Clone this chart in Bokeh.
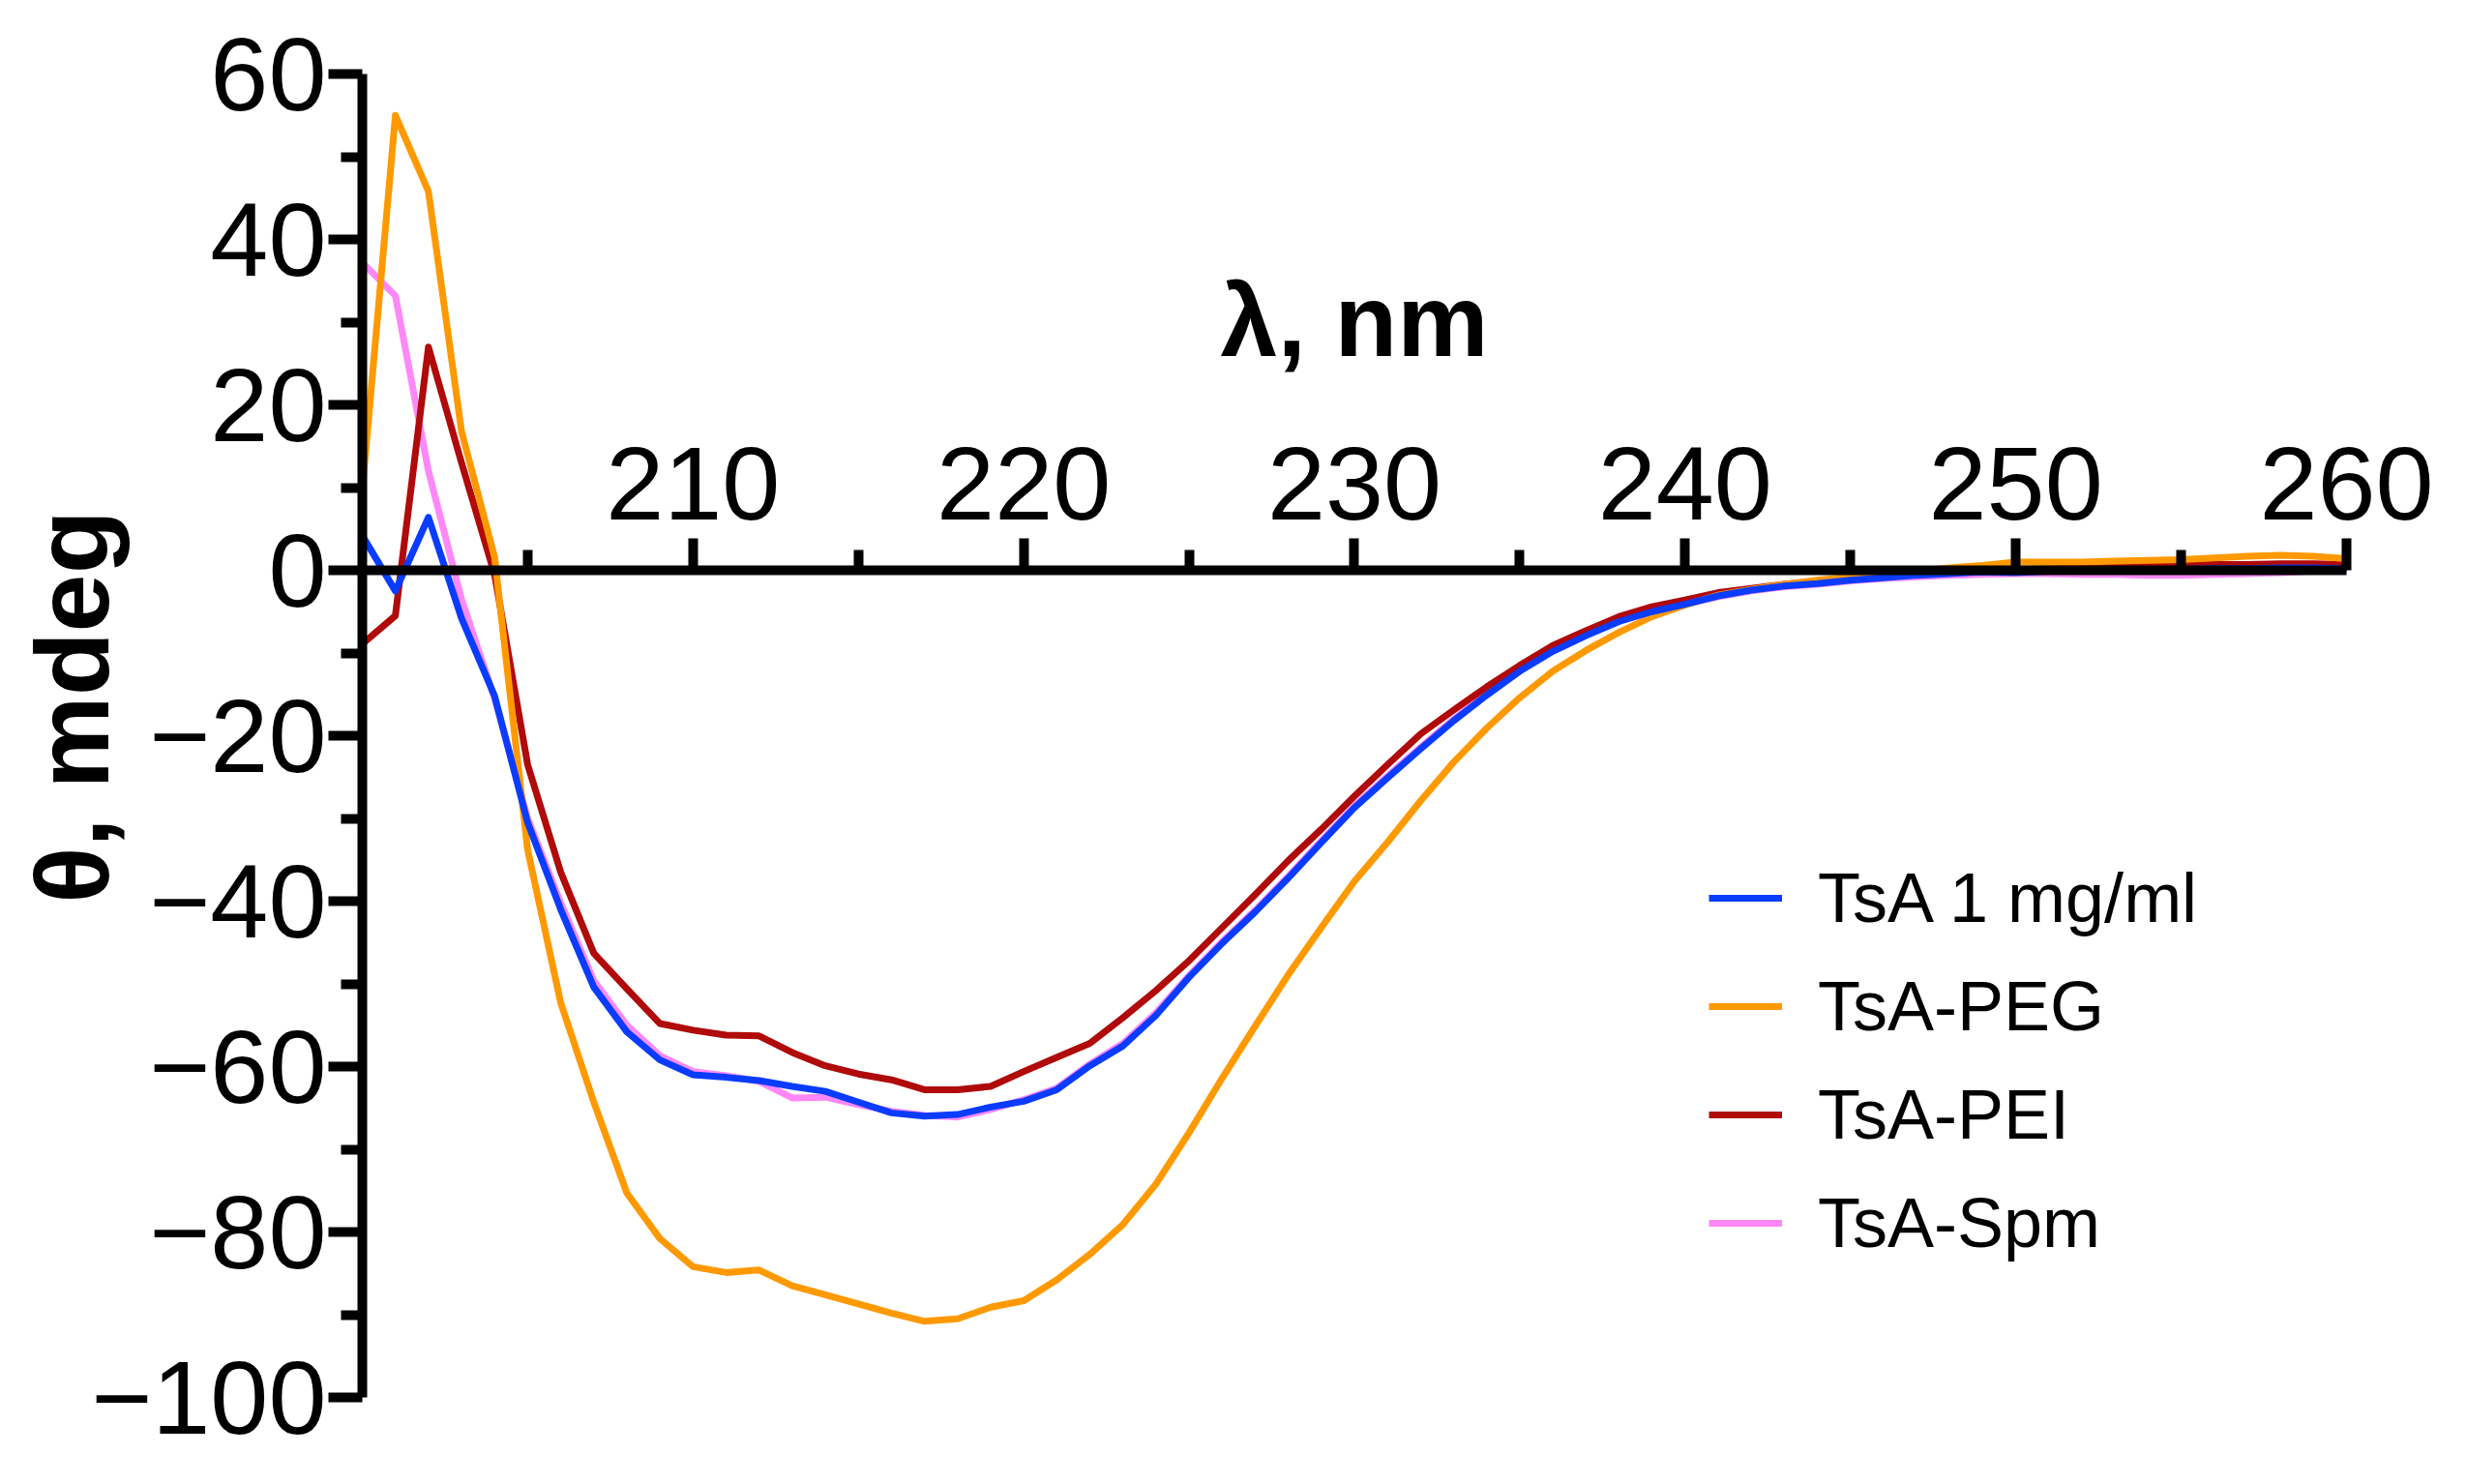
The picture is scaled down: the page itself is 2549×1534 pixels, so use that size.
import math
from bokeh.plotting import figure
from bokeh.models import Range1d, LinearAxis, FixedTicker, Legend, LegendItem, Label
from bokeh.embed import file_html
from bokeh.resources import INLINE

wavelength = list(range(200, 261))

tsa_1mg = [4.2, -2.5, 6.4, -5.8, -15.2, -30.5, -41.0, -50.4, -55.8, -59.2,
           -61.0, -61.3, -61.7, -62.4, -63.0, -64.3, -65.6, -66.0, -65.8, -64.9,
           -64.2, -62.8, -59.9, -57.5, -53.8, -49.2, -45.1, -41.3, -37.2, -32.9,
           -28.7, -25.1, -21.6, -18.2, -15.1, -12.2, -9.8, -7.9, -6.2, -5.0,
           -4.1, -3.1, -2.4, -1.9, -1.6, -1.2, -0.9, -0.6, -0.4, -0.2,
           -0.3, -0.1, -0.1, 0.0, 0.1, 0.1, 0.2, 0.2, 0.3, 0.3, 0.2]

tsa_peg = [9.7, 55.0, 45.8, 16.8, 1.6, -33.8, -52.3, -64.3, -75.3, -80.8,
           -84.2, -84.9, -84.6, -86.5, -87.6, -88.7, -89.8, -90.8, -90.5, -89.1,
           -88.3, -85.8, -82.7, -79.1, -74.2, -68.0, -61.4, -55.1, -48.9, -43.2,
           -37.6, -32.9, -27.9, -23.2, -19.1, -15.4, -12.2, -9.7, -7.5, -5.6,
           -4.2, -3.0, -2.3, -1.7, -1.2, -0.8, -0.4, -0.1, 0.3, 0.6,
           1.0, 1.0, 1.0, 1.1, 1.2, 1.3, 1.5, 1.7, 1.8, 1.7, 1.4]

tsa_pei = [-8.9, -5.5, 27.0, 13.0, -0.5, -23.5, -36.5, -46.3, -50.6, -54.8,
           -55.6, -56.2, -56.3, -58.3, -59.9, -60.9, -61.6, -62.8, -62.8, -62.4,
           -60.6, -58.9, -57.2, -54.1, -50.8, -47.2, -43.2, -39.2, -35.1, -31.3,
           -27.3, -23.5, -19.8, -16.9, -14.1, -11.5, -9.1, -7.3, -5.6, -4.4,
           -3.6, -2.7, -2.2, -1.7, -1.3, -1.0, -0.7, -0.4, -0.2, 0.0,
           0.1, 0.2, 0.3, 0.4, 0.5, 0.6, 0.7, 0.7, 0.8, 0.8, 0.7]

tsa_spm = [37.2, 33.2, 12.0, -3.5, -15.5, -30.0, -40.2, -49.6, -55.0, -58.7,
           -60.6, -61.1, -61.8, -63.8, -63.7, -64.6, -65.4, -65.9, -66.1, -65.2,
           -64.0, -62.6, -59.7, -57.2, -53.5, -49.0, -44.9, -41.1, -37.0, -32.7,
           -28.5, -24.9, -21.4, -18.0, -14.9, -12.1, -9.7, -7.8, -6.1, -5.0,
           -4.1, -3.2, -2.5, -2.0, -1.7, -1.3, -1.0, -0.8, -0.6, -0.5,
           -0.4, -0.4, -0.5, -0.5, -0.6, -0.6, -0.5, -0.4, -0.3, -0.1, 0.1]

series_names = ["TsA 1 mg/ml", "TsA-PEG", "TsA-PEI", "TsA-Spm"]
series_colors = ["#0A3CFF", "#FF9900", "#B00A0A", "#FF88F8"]

y_ticks = [-100, -80, -60, -40, -20, 0, 20, 40, 60]
y_minor = [-90, -70, -50, -30, -10, 10, 30, 50]
x_ticks = [210, 220, 230, 240, 250, 260]
x_minor = [205, 215, 225, 235, 245, 255]

FONT = "Liberation Sans"

# canvas geometry (pixels): the frame covers the whole canvas, axes sit inside it
W, H = 2533, 1518
X0_PX, PX_PER_NM = 374.0, 34.183      # x = 200 nm at 374 px
Y60_PX, PX_PER_UNIT = 76.0, 8.55      # y = 60 at 76 px from top
x_start = 200 - X0_PX / PX_PER_NM
x_end = x_start + W / PX_PER_NM
y_end = 60 + Y60_PX / PX_PER_UNIT
y_start = y_end - H / PX_PER_UNIT

p = figure(frame_width=W, frame_height=H, min_border=0,
           x_range=Range1d(x_start, x_end), y_range=Range1d(y_start, y_end),
           x_axis_location=None, y_axis_location=None, toolbar_location=None,
           output_backend="svg", background_fill_color="white",
           border_fill_color="white")
p.outline_line_color = None
p.grid.visible = False


def style_axis(ax, tick_out, minor_out, standoff):
    ax.axis_line_width = 10
    ax.axis_line_color = "black"
    ax.major_tick_line_width = 10
    ax.minor_tick_line_width = 10
    ax.major_tick_line_color = "black"
    ax.minor_tick_line_color = "black"
    ax.major_tick_out = tick_out
    ax.major_tick_in = 0
    ax.minor_tick_out = minor_out
    ax.minor_tick_in = 0
    ax.major_label_standoff = standoff
    ax.major_label_text_font = FONT
    ax.major_label_text_font_size = "108px"
    ax.major_label_text_color = "black"


# y axis at x = 200
ya = LinearAxis(fixed_location=200, bounds=(-100, 60),
                ticker=FixedTicker(ticks=y_ticks, minor_ticks=y_minor))
ya.major_label_overrides = {t: (f"\u2212{abs(t)}" if t < 0 else str(t)) for t in y_ticks}
style_axis(ya, 35, 22, 2)
p.add_layout(ya, "left")

# x axis crossing at y = 0, labels above
xa = LinearAxis(fixed_location=0, bounds=(200, 260),
                ticker=FixedTicker(ticks=x_ticks, minor_ticks=x_minor))
style_axis(xa, 33, 21, 20)
xa.axis_label = "\u03bb, nm"
xa.axis_label_text_font = FONT
xa.axis_label_text_font_style = "bold"
xa.axis_label_text_font_size = "106px"
xa.axis_label_text_color = "black"
xa.axis_label_standoff = 70
p.add_layout(xa, "above")

# y axis title
p.add_layout(Label(x=191.22, y=-16.5, text="\u03b8, mdeg", angle=math.pi / 2,
                   text_align="center", text_baseline="alphabetic",
                   text_font=FONT, text_font_style="bold",
                   text_font_size="108px", text_color="black"))

data = [tsa_1mg, tsa_peg, tsa_pei, tsa_spm]
renderers = {}
for idx in [3, 2, 1, 0]:
    renderers[idx] = p.line(wavelength, data[idx], line_color=series_colors[idx],
                            line_width=7, line_join="round")

legend = Legend(items=[LegendItem(label=series_names[i], renderers=[renderers[i]]) for i in range(4)],
                location=(1766, 198), border_line_color=None,
                background_fill_alpha=0, padding=0, margin=0, spacing=0,
                glyph_width=76, glyph_height=112, label_height=112,
                label_standoff=37, label_text_font=FONT,
                label_text_font_size="72px", label_text_color="black")
p.add_layout(legend)

open("out.html", "w").write(file_html(p, INLINE))
